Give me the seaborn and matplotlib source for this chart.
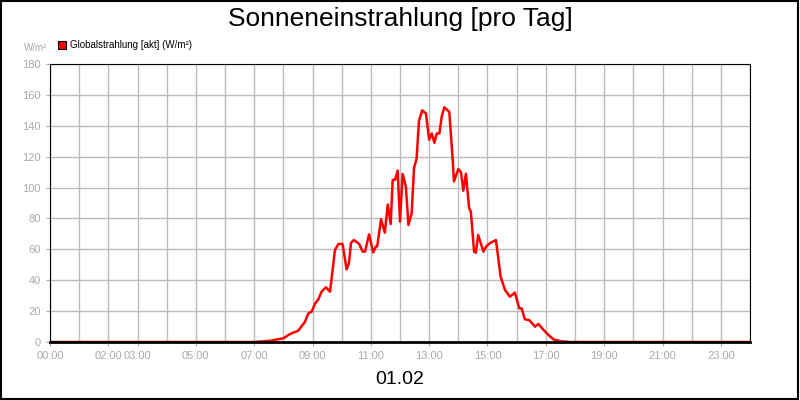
import matplotlib
matplotlib.use('Agg')
import matplotlib.pyplot as plt
import seaborn as sns
import pandas as pd
from matplotlib.patches import Rectangle

sns.set_style("white")
plt.rcParams['font.family'] = ['Liberation Sans', 'DejaVu Sans']
plt.rcParams['text.color'] = 'black'

# Stunden (dezimal) und Globalstrahlung in W/m²
hours = [0, 7.0, 7.54, 8.0, 8.23, 8.51, 8.74, 8.86, 8.97, 9.09, 9.2, 9.31, 9.46, 9.6, 9.77, 9.89,
         10.03, 10.17, 10.25, 10.32, 10.42, 10.6, 10.72, 10.8, 10.94, 11.08, 11.18, 11.22,
         11.35, 11.48, 11.58, 11.68, 11.75, 11.83, 11.92, 12.0, 12.09, 12.2, 12.29, 12.4,
         12.48, 12.57, 12.65, 12.76, 12.89, 13.0, 13.09, 13.18, 13.26, 13.35, 13.43, 13.52,
         13.69, 13.8, 13.85, 14.0, 14.09, 14.17, 14.26, 14.37, 14.43, 14.54, 14.6, 14.68,
         14.86, 14.95, 15.08, 15.29, 15.45, 15.6, 15.77, 15.94, 16.09, 16.17, 16.28, 16.43,
         16.63, 16.74, 17.03, 17.26, 17.49, 17.8, 24]
values = [0, 0, 0.8, 2.4, 5.2, 7.3, 13, 18.6, 19.6, 25, 27.6, 32.6, 35.4, 32.6, 59.6, 63.5,
          63.5, 47, 51, 64.3, 66, 63.5, 58.5, 58.5, 69.7, 58, 62, 62,
          79.5, 70.8, 89, 76.4, 105, 105, 111, 78, 108.8, 100.6, 75.8, 83.3,
          112.5, 119, 143, 150, 148, 131, 135, 129, 135, 135, 146, 152,
          149, 120, 104, 112, 110, 98, 109, 86.6, 84.4, 58.5, 57.8, 69.3,
          58.5, 61.7, 64, 66, 42.3, 33.7, 29.3, 32, 21.8, 21.8, 14.7, 14.2,
          9.9, 11.7, 5.6, 1.7, 0.6, 0, 0]
tick_hours = [0, 2, 3, 5, 7, 9, 11, 13, 15, 17, 19, 21, 23]

df = pd.DataFrame({"h": hours, "v": values})

fig = plt.figure(figsize=(8, 4), dpi=100)
fig.patches.append(Rectangle((0.001, 0.002), 0.997, 0.995, transform=fig.transFigure,
                             fill=False, edgecolor="black", linewidth=1.5))
ax = fig.add_axes([0.0625, 0.145, 0.875, 0.695])
sns.lineplot(data=df, x="h", y="v", color="red", linewidth=1.8, ax=ax)
ax.set_xlim(0, 24)
ax.set_ylim(0, 180)
ax.set_xticks(range(0, 25), minor=True)
ax.set_xticks(tick_hours)
ax.set_xticklabels([f"{h:02d}:00" for h in tick_hours])
ax.set_yticks(range(0, 181, 20))
ax.grid(True, which="both", color="#bbbbbb", linewidth=1)
ax.tick_params(colors="#aaaaaa", labelsize=8, length=3, left=True, bottom=True)
ax.tick_params(which="minor", length=0)
for s in ax.spines.values():
    s.set_color("black")
ax.spines["bottom"].set_linewidth(2)
ax.set_xlabel("")
ax.set_ylabel("")

fig.text(0.5, 0.952, "Sonneneinstrahlung [pro Tag]", ha="center", va="center", fontsize=19)
fig.text(0.5, 0.05, "01.02", ha="center", va="center", fontsize=14)
fig.text(0.03, 0.88, "W/m²", ha="left", va="center", fontsize=7, color="#aaaaaa")
fig.patches.append(Rectangle((0.073, 0.877), 0.01, 0.02, transform=fig.transFigure,
                             facecolor="red", edgecolor="black", linewidth=0.8))
fig.text(0.087, 0.888, "Globalstrahlung [akt] (W/m²)", ha="left", va="center", fontsize=7)

fig.savefig("out.png", dpi=100)
